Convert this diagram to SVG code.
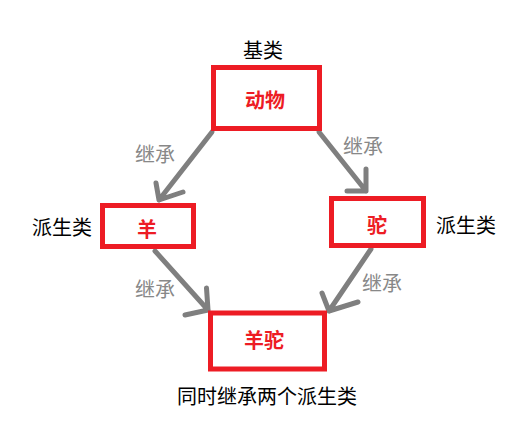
<svg xmlns="http://www.w3.org/2000/svg" width="530" height="434" viewBox="0 0 530 434">
<style>
.box{fill:#fff;stroke:#ED1C24;stroke-width:5}
.nt{font-family:"Noto Sans CJK SC","Microsoft YaHei",sans-serif;font-size:20px;font-weight:bold;fill:#ED1C24;text-anchor:middle;dominant-baseline:central}
.lb{font-family:"Noto Sans CJK SC",sans-serif;font-size:20px;fill:#000;text-anchor:middle;dominant-baseline:central}
.el{font-family:"Noto Sans CJK SC",sans-serif;font-size:20px;fill:#888;text-anchor:middle;dominant-baseline:central}
.ar{fill:none;stroke:#7F7F7F;stroke-width:5;stroke-linecap:round;stroke-linejoin:round}
</style>
<rect width="530" height="434" fill="#fff"/>
<g id="connectors">
<path class="ar" d="M212,132 L159,200 M156,183 L159,200 L183,192"/>
<path class="ar" d="M319,132 L366,191 M366,169 L366,191 L347,191"/>
<path class="ar" d="M155,251 L208,310 M206.5,288 L208,310 L185,315"/>
<path class="ar" d="M371,249 L329,311 M322,293 L329,311 L358,302"/>
<text class="el" x="155" y="153">继承</text>
<text class="el" x="363" y="145">继承</text>
<text class="el" x="155" y="288">继承</text>
<text class="el" x="382" y="282">继承</text>
</g>
<g id="animal">
<rect class="box" x="213.5" y="67.5" width="106" height="61"/>
<text class="nt" x="265" y="99">动物</text>
<text class="lb" x="263" y="49">基类</text>
</g>
<g id="sheep">
<rect class="box" x="102.5" y="205.5" width="91" height="41"/>
<text class="nt" x="147" y="228">羊</text>
<text class="lb" x="62" y="226">派生类</text>
</g>
<g id="camel">
<rect class="box" x="331.5" y="198.5" width="92" height="47"/>
<text class="nt" x="377" y="224">驼</text>
<text class="lb" x="466" y="224">派生类</text>
</g>
<g id="alpaca">
<rect class="box" x="210.5" y="313" width="114" height="56"/>
<text class="nt" x="264" y="339">羊驼</text>
<text class="lb" x="267" y="395">同时继承两个派生类</text>
</g>
</svg>
